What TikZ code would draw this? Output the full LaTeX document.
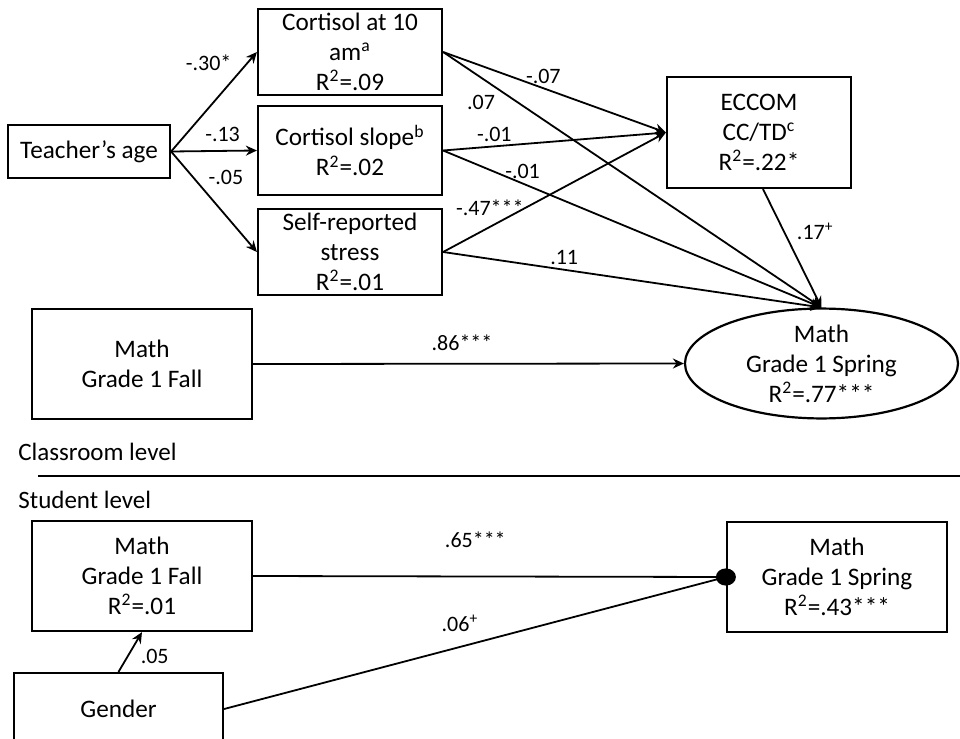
\documentclass[tikz,border=0pt]{standalone}
\usepackage{fontspec}
\setmainfont{Carlito}
\usetikzlibrary{positioning, arrows.meta, shapes.geometric}
\tikzset{%
  every edge/.style={draw, -{Stealth[length=5.5pt, width=5pt]}, line width=0.9pt},
  var/.style={draw, line width=1.1pt, align=center, inner sep=0pt,
    font=\fontsize{12.6}{15}\selectfont},
  coef/.style={font=\fontsize{11}{13}\selectfont, inner sep=2pt},
  level/.style={anchor=west, inner sep=0pt, font=\fontsize{12.5}{15}\selectfont}
}

\begin{document}
\begin{tikzpicture}[x=0.5pt, y=-0.5pt]
  \useasboundingbox (0,0) rectangle (960,739);
  \clip (0,0) rectangle (960,739);

  % classroom level
  \node[var, minimum width=81pt, minimum height=26.5pt] (age) at (89,151.5) {Teacher’s age};
  \node[var, minimum width=92pt, minimum height=43pt] (cort10) at (350,52)
    {Cortisol at 10\\am\textsuperscript{a}\\R\textsuperscript{2}=.09};
  \node[var, minimum width=92pt, minimum height=44.5pt] (slope) at (350,150.5)
    {Cortisol slope\textsuperscript{b}\\R\textsuperscript{2}=.02};
  \node[var, minimum width=92pt, minimum height=43pt] (stress) at (350,252)
    {Self-reported\\stress\\R\textsuperscript{2}=.01};
  \node[var, minimum width=92pt, minimum height=55.5pt] (eccom) at (759,132.5)
    {ECCOM\\CC/TD\textsuperscript{c}\\R\textsuperscript{2}=.22*};
  \node[var, minimum width=110pt, minimum height=55pt] (fallC) at (142,364)
    {Math\\Grade 1 Fall};
  \node[var, ellipse, minimum width=136.5pt, minimum height=54.5pt] (springC) at (821.5,363.5)
    {Math\\Grade 1 Spring\\R\textsuperscript{2}=.77***};

  \draw (age.east) edge node[coef, pos=.76, anchor=south east] {-.30*} (cort10.west);
  \draw (age.east) edge node[coef, pos=.6, above, yshift=2pt] {-.13} (slope.west);
  \draw (age.east) edge node[coef, pos=.38, anchor=south west] {-.05} (stress.west);

  \draw (cort10.east) edge node[coef, pos=.45, above] {-.07} (eccom.west);
  \draw (cort10.east) edge node[coef, pos=.15, anchor=north east] {.07} (springC.north);
  \draw (slope.east) edge node[coef, pos=.23, above] {-.01} (eccom.west);
  \draw (slope.east) edge node[coef, pos=.21, above] {-.01} (springC.north);
  \draw (stress.east) edge node[coef, pos=.21, above, yshift=3pt] {-.47***} (eccom.west);
  \draw (stress.east) edge node[coef, pos=.32, above] {.11} (springC.north);
  \draw ([xshift=2pt]eccom.south) edge node[coef, pos=.36, right, xshift=4pt] {.17\textsuperscript{+}} (springC.north);
  \draw (fallC.east) edge node[coef, pos=.485, above, yshift=4pt] {.86***} (springC.west);

  % levels
  \node[level] (classroom) at (18,452) {Classroom level};
  \node[level] (student) at (18,500) {Student level};
  \coordinate (sepL) at (38,476);
  \coordinate (sepR) at (960,476);
  \draw[line width=1pt] (sepL) -- (sepR);

  % student level
  \node[var, minimum width=110pt, minimum height=55pt] (fallS) at (142,576)
    {Math\\Grade 1 Fall\\R\textsuperscript{2}=.01};
  \node[var, minimum width=110pt, minimum height=55pt] (springS) at (837,577)
    {Math\\Grade 1 Spring\\R\textsuperscript{2}=.43***};
  \node[var, minimum width=104.5pt, minimum height=36pt] (gender) at (118.5,709) {Gender};
  \coordinate (dot) at (springS.west);

  \draw (fallS.east) edge[-] node[coef, pos=.47, above, yshift=12pt] {.65***} (dot);
  \draw (gender.east) edge[-] node[coef, pos=.47, above, yshift=5pt] {.06\textsuperscript{+}} (dot);
  \draw (gender.north) edge node[coef, pos=.4, right, xshift=4pt] {.05} (fallS.south);
  \fill (dot) circle[x radius=5pt, y radius=4.3pt];
\end{tikzpicture}
\end{document}
